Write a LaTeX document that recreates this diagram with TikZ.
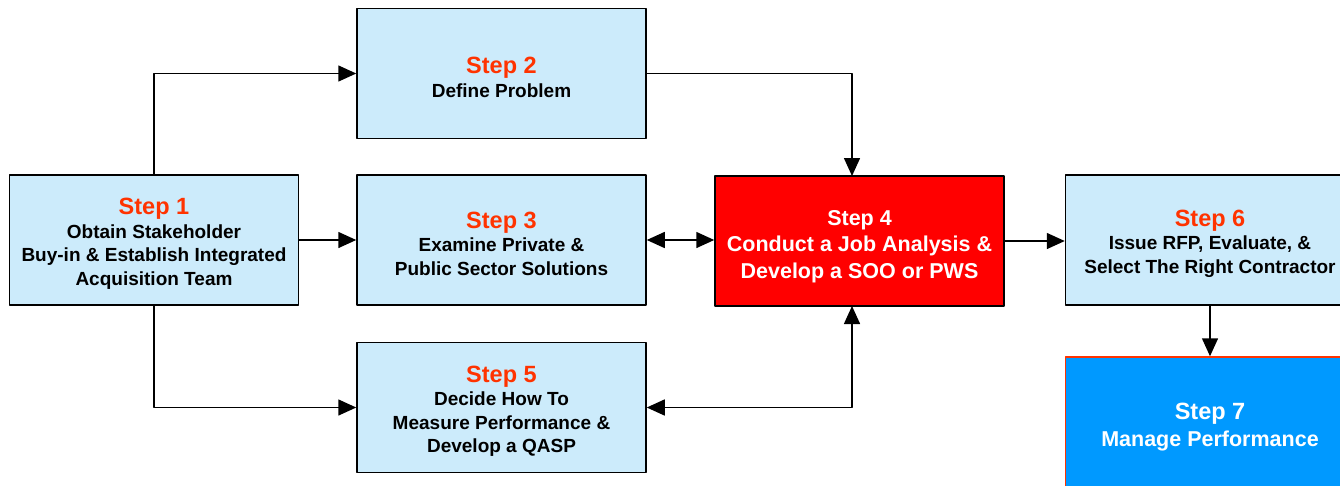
\documentclass[tikz,border=0pt]{standalone}
\usepackage{fontspec}
\setmainfont{Liberation Sans}
\usetikzlibrary{arrows.meta}
\definecolor{boxblue}{HTML}{CCEBFB}
\definecolor{steporange}{HTML}{FF3300}
\definecolor{jobred}{HTML}{FF0000}
\definecolor{manageblue}{HTML}{0099FF}
\tikzset{
	stepbox/.style={draw=black, line width=1.5pt, fill=boxblue, minimum width=289pt,
		minimum height=130pt, align=center, inner sep=0pt,
		font=\bfseries\fontsize{19}{23.5}\selectfont},
	redbox/.style={stepbox, fill=jobred, text=white, font=\bfseries\fontsize{21.5}{26.5}\selectfont},
	bluebox/.style={stepbox, draw=steporange, fill=manageblue, text=white, minimum height=133pt,
		font=\bfseries\fontsize{21.5}{27}\selectfont},
	flow/.style={line width=1.5pt, -{Triangle[length=18pt,width=16pt]}},
	flowboth/.style={line width=1.5pt, {Triangle[length=18pt,width=16pt]}-{Triangle[length=18pt,width=16pt]}}
}
\newcommand{\steptitle}[1]{{\fontsize{23.5}{24}\selectfont\color{steporange}\rule{0pt}{24pt}#1}\\}
\begin{document}
\begin{tikzpicture}[x=1pt, y=-1pt, line join=round, line cap=butt]
		\clip (0,0) rectangle (1340,485);
		\node[stepbox] (s1) at (154,240) {\steptitle{Step 1}Obtain Stakeholder\\Buy-in \& Establish Integrated\\Acquisition Team};
		\node[stepbox] (s2) at (501.5,73.5) {\steptitle{Step 2}Define Problem};
		\node[stepbox] (s3) at (501.5,240) {\steptitle{Step 3}Examine Private \&\\Public Sector Solutions};
		\node[redbox] (s4) at (859.5,241) {\rule{0pt}{26pt}Step 4\\Conduct a Job Analysis \&\\Develop a SOO or PWS};
		\node[stepbox] (s5) at (501.5,407.5) {\steptitle{Step 5}Decide How To\\Measure Performance \&\\Develop a QASP};
		\node[stepbox] (s6) at (1210,240) {\steptitle{Step 6}Issue RFP, Evaluate, \&\\Select The Right Contractor};
		\node[bluebox] (s7) at (1210,423.5) {{\fontsize{23.5}{24}\selectfont\rule{0pt}{24pt}Step 7}\\Manage Performance};
		\path
			(852,176) coordinate (n4)
			(852,306) coordinate (b4);
		% links
		\draw[flow] (s1.north) |- (s2.west);
		\draw[flow] (s2.east) -| (n4);
		\draw[flow] (s1.east) -- (s1.east -| s3.west);
		\draw[flowboth] (s3.east) -- (s3.east -| s4.west);
		\draw[flow] (s4.east) -- (s4.east -| s6.west);
		\draw[flow] (s1.south) |- (s5.west);
		\draw[flowboth] (s5.east) -| (b4);
		\draw[flow] (s6.south) -- (s7.north);
\end{tikzpicture}
\end{document}
